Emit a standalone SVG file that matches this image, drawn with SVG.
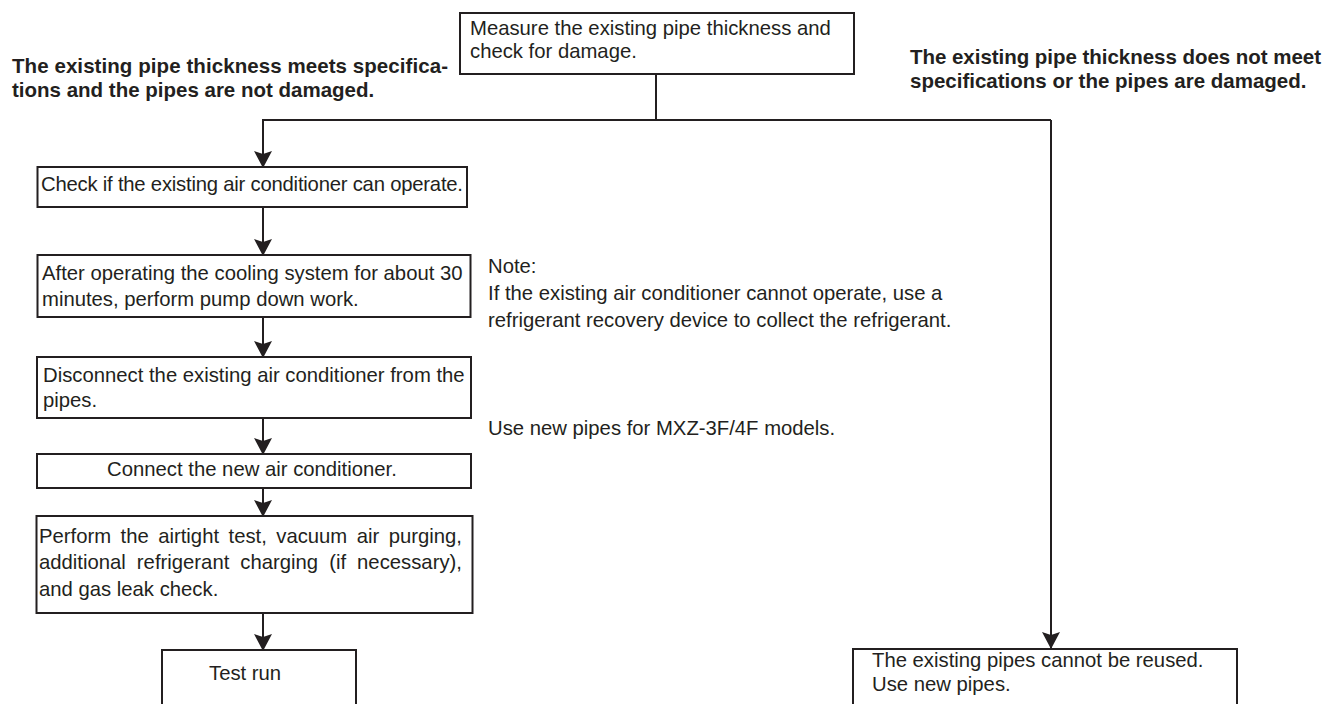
<svg xmlns="http://www.w3.org/2000/svg" width="1324" height="704" viewBox="0 0 1324 704">
<style>
  .box { fill: #ffffff; stroke: #231f20; stroke-width: 2; }
  .t { font-family: "Liberation Sans", Arial, Helvetica, sans-serif; font-size: 20.3px; fill: #231f20; }
  .b { font-family: "Liberation Sans", Arial, Helvetica, sans-serif; font-size: 20.5px; font-weight: bold; fill: #231f20; }
  .c { fill: none; stroke: #231f20; stroke-width: 2; }
  .a { marker-end: url(#arrow); }
</style>
<defs>
  <marker id="arrow" markerUnits="userSpaceOnUse" viewBox="0 0 17 18" refX="16" refY="9" markerWidth="17" markerHeight="18" orient="auto">
    <path d="M0,0 L17,9 L0,18 L3,9 z" fill="#231f20"/>
  </marker>
</defs>
<rect width="1324" height="704" fill="#ffffff"/>

<g id="connectors">
  <path class="c" d="M656,74 V120"/>
  <path class="c" d="M262,120 H1051"/>
  <path class="c a" d="M263,120 V167"/>
  <path class="c a" d="M1051,120 V648"/>
  <path class="c a" d="M263,207 V255"/>
  <path class="c a" d="M263,317 V357"/>
  <path class="c a" d="M263,418 V454"/>
  <path class="c a" d="M263,488 V516"/>
  <path class="c a" d="M263,613 V650"/>
</g>

<g id="label-ok">
  <text class="b" x="12" y="73" textLength="436">The existing pipe thickness meets specifica-</text>
  <text class="b" x="12" y="97">tions and the pipes are not damaged.</text>
</g>

<g id="label-ng">
  <text class="b" x="910" y="64" textLength="411">The existing pipe thickness does not meet</text>
  <text class="b" x="910" y="88">specifications or the pipes are damaged.</text>
</g>

<g id="node-measure">
  <rect class="box" x="460" y="13" width="394" height="61"/>
  <text class="t" x="470" y="35">Measure the existing pipe thickness and</text>
  <text class="t" x="470" y="58">check for damage.</text>
</g>

<g id="node-check">
  <rect class="box" x="37.5" y="167" width="429.5" height="40"/>
  <text class="t" x="41" y="191" textLength="422">Check if the existing air conditioner can operate.</text>
</g>

<g id="node-pumpdown">
  <rect class="box" x="37.5" y="255" width="433" height="62"/>
  <text class="t" x="42" y="280">After operating the cooling system for about 30</text>
  <text class="t" x="42" y="306">minutes, perform pump down work.</text>
</g>

<g id="node-disconnect">
  <rect class="box" x="37" y="357" width="434" height="61"/>
  <text class="t" x="43" y="382">Disconnect the existing air conditioner from the</text>
  <text class="t" x="43" y="407">pipes.</text>
</g>

<g id="node-connect">
  <rect class="box" x="37" y="454" width="434" height="34"/>
  <text class="t" x="252" y="476" text-anchor="middle">Connect the new air conditioner.</text>
</g>

<g id="node-airtight">
  <rect class="box" x="36.5" y="516" width="436" height="97"/>
  <text class="t" x="39" y="543" word-spacing="3.8">Perform the airtight test, vacuum air purging,</text>
  <text class="t" x="39" y="569" word-spacing="5.4">additional refrigerant charging (if necessary),</text>
  <text class="t" x="39" y="596">and gas leak check.</text>
</g>

<g id="node-testrun">
  <rect class="box" x="162" y="650" width="194" height="80"/>
  <text class="t" x="209" y="680">Test run</text>
</g>

<g id="node-newpipes">
  <rect class="box" x="853" y="649" width="384" height="80"/>
  <text class="t" x="872" y="667">The existing pipes cannot be reused.</text>
  <text class="t" x="872" y="691">Use new pipes.</text>
</g>

<g id="note">
  <text class="t" x="488" y="273">Note:</text>
  <text class="t" x="488" y="300">If the existing air conditioner cannot operate, use a</text>
  <text class="t" x="488" y="327">refrigerant recovery device to collect the refrigerant.</text>
  <text class="t" x="488" y="435">Use new pipes for MXZ-3F/4F models.</text>
</g>
</svg>
